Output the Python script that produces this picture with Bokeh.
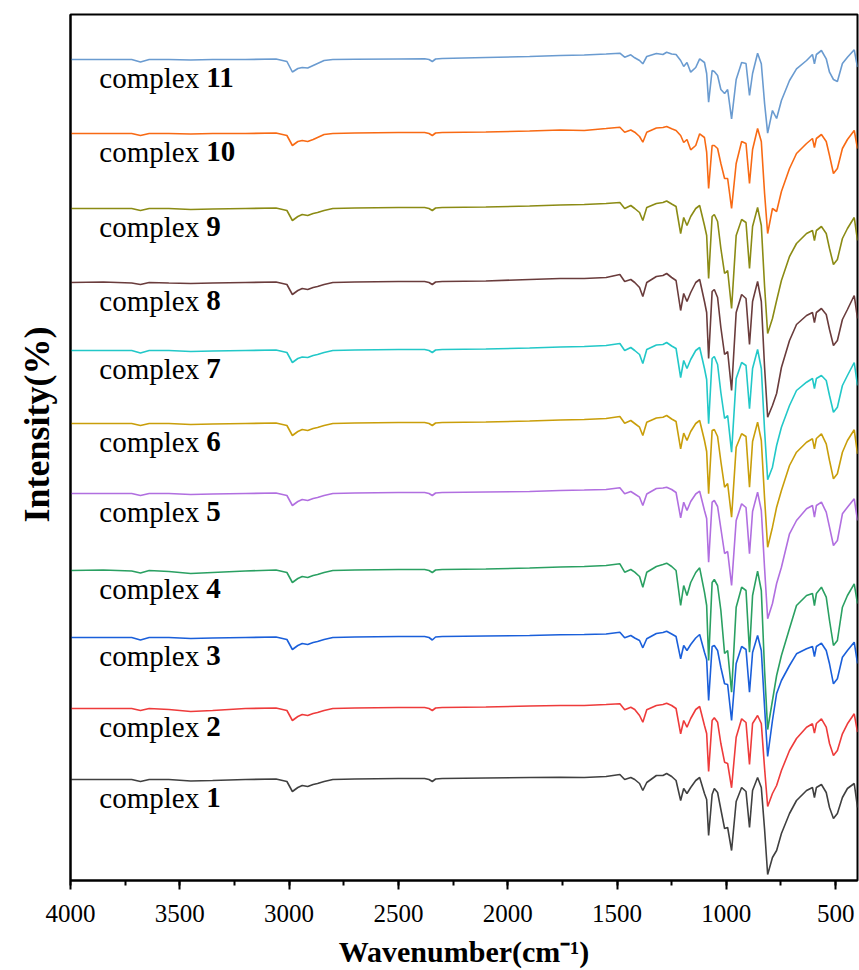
from bokeh.plotting import figure
from bokeh.models import Range1d, SingleIntervalTicker, FixedTicker, Title
from bokeh.core.properties import value
from bokeh.embed import file_html
from bokeh.resources import INLINE

wavenumber = [4000, 3850, 3720, 3680, 3640, 3550, 3450, 3350, 3200, 3060,
              3010, 2985, 2960, 2940, 2915, 2890, 2870, 2840, 2800, 2700,
              2500, 2380, 2360, 2345, 2330, 2300, 2100, 1900, 1760, 1650,
              1550, 1487, 1465, 1437, 1419, 1397, 1382, 1364, 1320, 1290,
              1273, 1250, 1230, 1209, 1195, 1180, 1163, 1140, 1122, 1100,
              1090, 1081, 1065, 1055, 1040, 1025, 1008, 994, 976, 955,
              930, 910, 894, 880, 857, 840, 825, 811, 789, 770,
              748, 711, 679, 633, 606, 597, 588, 565, 543, 528,
              510, 492, 469, 446, 415, 400]

complex1 = [0,0,0,-2,0,0,-1.5,-1,0,0.5,-2,-12,-8,-6,-7,-5,-4,-2,0,0.5,1,1,0,-2,0.5,1,1.5,2,2.3,2,3,
            5,0,2,0,-4,-11,-3,4,4, 6,3,-1,-21,-9,-14,-8,-1,2,-14, -20,-56,-15,-9,-13,-30,-49,-48,-71,-22,
            -8,-12,-48,-11,2,-8,-50,-95,-78,-71, -54,-34,-21,-11,-8,-18,-8,-5,-13,-28, -39,-34,-18,-9,-4,-28]
complex2 = [0,0,0,-2,0,-1,-3,-2,0,0.5,-2,-12,-8,-6,-7,-5,-4,-2,0,0.5,1,1,0,-2,0.5,1,1.5,2.5,3,3,4,
            4.7,-1.3,1.3,-1,-7,-13.7,-1.3,3,4, 5.3,3,0,-25.3,-12,-18.7,-10,-1,2,-17, -25,-63,-12,-9.3,-13.7,-35,-53.7,-55,-79.3,-28.7,
            -10.3,-14,-56,-15,-7,-15,-60,-98,-85,-77, -62,-42,-30,-18.7,-15.3,-24.7,-15,-10.3,-18.7,-35, -47,-42,-25.3,-15.3,-5.3,-23.7]
complex3 = [0,0,0,-2.5,0,0,-1,-0.5,0,0.5,-2,-12,-8,-6,-7,-5,-4,-2,0,0.5,1,1,0,-2.5,0.5,1,1.5,2,2.7,3,3.5,
            5.3,-0.3,2,-0.5,-3,-10.3,-1.3,4,5, 6.3,3.5,1,-21.3,-8,-13,-7,-0.5,3,-14.7, -22,-63,-9,-8,-13,-30,-46.3,-47,-83,-26,
            -9,-12,-54.7,-15,2,-13,-70,-119,-83,-56, -43,-28,-16.3,-11.3,-9,-19,-9,-5.7,-13,-26.3, -46.3,-41.3,-19.7,-13,-4.7,-26]
complex4 = [0,0.5,-0.5,-2.5,0,-1,-3,-2,-0.5,0.5,-2,-12,-8,-6,-7,-5,-4,-2,0,0.5,1,1,0,-2,0.5,1,1.5,2.5,3.5,4,5,
            6.7,-1.7,1,-1.7,-6,-16.7,-1.7,4,6, 7.3,4,0,-35,-15,-25,-12,-2,2.7,-21.7, -35,-90,-12,-9,-15,-40,-83,-80,-121.7,-36.7,
            -16.7,-20,-81.7,-25,-0.7,-20,-100,-159,-130,-105, -85,-58,-35,-25,-23,-35,-23,-16.7,-26.7,-50, -75,-70,-36.7,-25,-13.3,-33]
complex5 = [0,0,0,-2,0,0,-1,-0.5,0,0.5,-2,-12,-8,-6,-7,-5,-4,-2,0,0.5,1,1,0,-2,0.5,1,1.5,2,3,3.5,4,
            5.7,-0.3,2,-0.5,-3.7,-12,-0.5,5,5.5, 6.3,4,1,-24.3,-8.7,-17,-8,-0.5,2.3,-17, -25,-68.7,-8.7,-7,-13,-35,-60,-58,-92,-27,
            -10.3,-14,-60.3,-18,1.3,-17,-75,-125.3,-110,-90, -73.7,-40.3,-27,-15.3,-12,-23.7,-12,-8.7,-18.7,-33.7, -52,-47,-20.3,-13.7,-5.3,-27]
complex6 = [0,0,0,-2,0,0,-1,-0.5,0,0.5,-2,-12,-8,-6,-7,-5,-4,-2,0,0.5,1,1,0,-2,0.5,1,1.5,2.5,3.5,4,5,
            7,0.3,3,0,-3.7,-12,1.3,5.5,6.3, 8,4.5,2,-25.3,-9.7,-17,-8,0,3,-17, -28,-70.3,-7,-6,-13,-38,-63.7,-60,-93.7,-23.7,
            -10.3,-13,-63.7,-18,1.3,-17,-75,-123.7,-103.7,-83.7, -67,-42,-28.7,-18.7,-15.3,-25.3,-15,-10.3,-20.3,-37, -55.3,-50.3,-28.7,-17,-6.3,-30.3]
complex7 = [0,0,0,-2.5,0,0,-1,-0.5,0,0.5,-2,-12,-8,-6.5,-7,-5,-4,-2,0,0.5,1,1,0,-2,0.5,1,1.5,2.5,3.5,4,5,
            7,0,3,0,-4,-13,1,5.5,6, 8,4.5,2,-27,-10,-18,-9,0,3,-18, -29,-73.3,-8,-6,-14,-42,-68,-65,-101.7,-28,
            -12,-15,-58.3,-18,1,-18,-80,-129.3,-116.7,-95, -76.7,-55,-40,-31.7,-28,-38,-28,-25,-30,-45, -61.7,-56.7,-35,-25,-12,-35]
complex8 = [0,0.5,-0.5,-2,0,-0.5,-1,-0.5,0,0.5,-2,-12,-8,-6,-7,-5,-4,-2,0,0.5,1,1,0,-2,0.5,1,1.5,3,4,4,5,
            8,1,3,0,-5,-14,0,6,7, 9,5,2,-28,-11,-19,-10,0,3,-19, -30,-76,-9,-7,-15,-45,-72,-69,-108,-30,
            -12,-16,-62,-19,1,-19,-85,-134.7,-123,-111, -85,-58,-42,-33,-30,-40,-30,-26,-32,-47, -63,-58,-37,-27,-13,-36]
complex9 = [0,0,0,-2,0,0,-1,-0.5,0,0.5,-2,-12,-8,-6,-7,-5,-4,-2,0,0.5,1,1,0,-2,0.5,1,1.5,2.5,3.5,4,5,
            6,0,3,0,-4,-12,1,5,6, 7.5,4.5,2,-25,-9,-17,-8,0,3,-17, -27,-70,-8,-6,-13,-40,-65,-62,-100,-27,
            -11,-14,-60,-18,1,-17,-78,-125,-110,-92, -72,-48,-35,-25,-22,-32,-22,-18,-25,-40, -56,-51,-30,-20,-9,-32]
complex10 = [0,0,0,-2,0,0,-0.5,0,0,0.5,-2,-12,-8,-7,-8,-6,-4,-1,0,0.5,1,1,0,-2,0.5,1,1.5,2.5,3.5,3,5,
             6.3,1.3,3.5,1.3,-3,-8.7,1.3,5.5,6, 7,4.7,3,-2,-9,-6,-16.3,-12,-0.3,-4, -18.7,-55,-12,-12,-15,-30,-45,-45,-75,-30,
             -8,-10,-50,-16,5,-8,-60,-100,-75,-78, -58,-35,-20,-10,-5,-14,-5,-1,-8,-22, -40,-35,-15,-6,3,-15]
complex11 = [0,0,0,-2.5,0,0,-0.5,0,0,0.5,-2,-12.5,-9,-8,-8.5,-6,-4,-1,0,0.3,0.5,0.7,0,-2,0.5,1,2,3,4,4.5,5.5,
             6.3,2.3,4.7,1.7,-1,-4.3,3,6,5, 7.3,5.5,5,-1,-7,-3,-12.7,-8,0.7,-3, -14,-42.7,-11,-12,-16,-30,-34,-30,-59.3,-20,
             -3,-4,-36,-14,6.3,-4.3,-44,-73.7,-51,-59, -41,-21,-9.3,-1,5,-4.3,5,9,0.7,-12.7, -20,-22,-4,2.3,9.7,-7.7]

spectra = [complex1, complex2, complex3, complex4, complex5, complex6,
           complex7, complex8, complex9, complex10, complex11]
offsets = [101, 172, 243, 310, 387, 457, 530, 598, 672, 747, 821]
numbers = ["1", "2", "3", "4", "5", "6", "7", "8", "9", "10", "11"]
colors = ["#404040", "#EE3B3B", "#1A5FDA", "#2AA062", "#B16FE0", "#C99E0A",
          "#22C8C8", "#6A3C3C", "#8B8B14", "#F86A14", "#6A9BD0"]
label_wavenumber = 3868
label_drop = 18

for s in spectra:
    assert len(s) == len(wavenumber), len(s)

p = figure(width=859, height=970, output_backend="svg", toolbar_location=None,
           x_range=Range1d(4000, 400), y_range=Range1d(0, 866),
           min_border_left=70, min_border_right=2, min_border_top=14,
           min_border_bottom=90)
p.background_fill_color = "white"
p.border_fill_color = "white"
p.outline_line_color = "black"
p.outline_line_width = 2
p.grid.visible = False

for k in range(11):
    ys = [offsets[k] + v for v in spectra[k]]
    p.line(wavenumber, ys, line_color=colors[k], line_width=1.6)

ly = [o - label_drop for o in offsets]
lx = [label_wavenumber] * 11
p.text(x=lx, y=ly, text=["complex"] * 11, text_font=value("Liberation Serif"),
       text_font_size="29px", text_color="black", text_baseline="alphabetic",
       text_align="left")
p.text(x=lx, y=ly, text=numbers, x_offset=107, text_font=value("Liberation Serif"),
       text_font_size="29px", text_font_style="bold", text_color="black",
       text_baseline="alphabetic", text_align="left")

xa = p.xaxis[0]
xa.ticker = SingleIntervalTicker(interval=500, num_minor_ticks=2)
xa.axis_line_width = 2
xa.axis_line_color = "black"
xa.major_tick_line_width = 2
xa.minor_tick_line_width = 2
xa.major_tick_out = 9
xa.major_tick_in = 0
xa.minor_tick_out = 5
xa.minor_tick_in = 0
xa.major_label_text_font = "Liberation Serif"
xa.major_label_text_font_size = "25px"
xa.major_label_text_color = "black"
xa.major_label_standoff = 15
xa.axis_label = "Wavenumber(cm\u207b\u00b9)"
xa.axis_label_text_font = "Liberation Serif"
xa.axis_label_text_font_size = "30px"
xa.axis_label_text_font_style = "bold"
xa.axis_label_text_color = "black"
xa.axis_label_standoff = 10

ya = p.yaxis[0]
ya.ticker = FixedTicker(ticks=[])
ya.axis_line_width = 2
ya.axis_line_color = "black"
ya.major_tick_line_color = None
ya.minor_tick_line_color = None
ya.major_tick_out = 0
ya.major_label_standoff = 0

ytitle = Title(text="Intensity(%)", align="left", offset=358,
               vertical_align="top",
               text_font="Liberation Serif", text_font_size="36px",
               text_font_style="bold", text_color="black", standoff=24)
p.add_layout(ytitle, "left")

open("out.html", "w").write(file_html(p, INLINE))
